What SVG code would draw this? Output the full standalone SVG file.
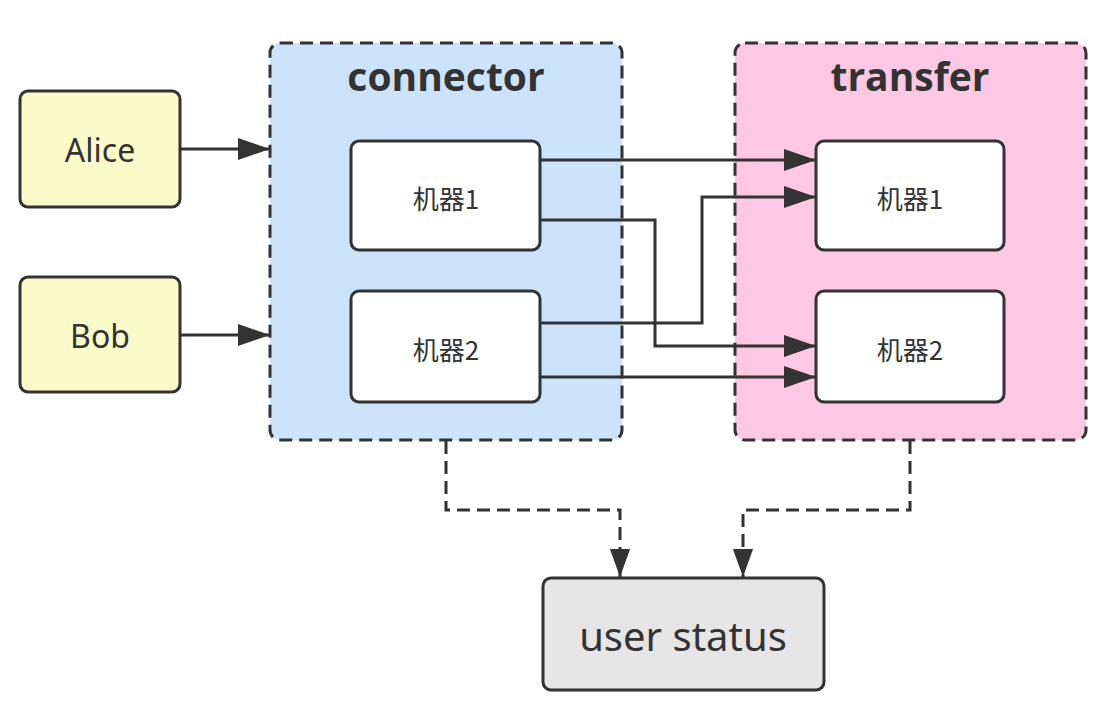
<svg xmlns="http://www.w3.org/2000/svg" width="1100" height="708" viewBox="0 0 1100 708">
<defs>
<marker id="arrBig" viewBox="0 0 12 12" refX="12" refY="6" markerWidth="32" markerHeight="24" orient="auto" markerUnits="userSpaceOnUse" preserveAspectRatio="none">
<path d="M0,0.5 L12,6 L0,11.5 Z" fill="#333"/>
</marker>
<marker id="arrDash" viewBox="0 0 12 12" refX="12" refY="6" markerWidth="28" markerHeight="22" orient="auto" markerUnits="userSpaceOnUse" preserveAspectRatio="none">
<path d="M0,0.5 L12,6 L0,11.5 Z" fill="#333"/>
</marker>
<style>
.box{stroke:#333;stroke-width:3}
.grp{stroke:#333;stroke-width:3;stroke-dasharray:13 7}
.lbl{font-family:"Noto Sans","Open Sans","Noto Sans CJK SC",sans-serif;fill:#333;text-anchor:middle;dominant-baseline:central}
.ttl{font-family:"Open Sans","Noto Sans",sans-serif;font-weight:bold;fill:#333;text-anchor:middle;dominant-baseline:central;font-size:39px}
.cn{font-family:"Noto Sans CJK SC","Noto Sans",sans-serif;fill:#333;text-anchor:middle;dominant-baseline:central;font-size:26px}
.ln{stroke:#333;stroke-width:3;fill:none;marker-end:url(#arrBig)}
.dl{stroke:#333;stroke-width:3;fill:none;stroke-dasharray:13 7;marker-end:url(#arrDash)}
</style>
</defs>
<rect width="1100" height="708" fill="#ffffff"/>

<g id="connector">
<rect x="270" y="43" width="352" height="397" rx="10" fill="#cce4fb" class="grp"/>
<text x="446" y="75" class="ttl">connector</text>
</g>
<g id="transfer">
<rect x="735" y="43" width="351" height="397" rx="10" fill="#fdc8e3" class="grp"/>
<text x="910" y="75" class="ttl">transfer</text>
</g>

<g id="alice">
<rect x="20" y="91" width="160" height="116" rx="8" fill="#fbfbca" class="box"/>
<text x="100" y="149" class="lbl" font-size="32">Alice</text>
</g>
<g id="bob">
<rect x="20" y="277" width="160" height="115" rx="8" fill="#fbfbca" class="box"/>
<text x="100" y="335" class="lbl" font-size="32">Bob</text>
</g>

<g id="c-m1">
<rect x="351" y="141" width="189" height="109" rx="8" fill="#ffffff" class="box"/>
<text x="446" y="197" class="cn">机器1</text>
</g>
<g id="c-m2">
<rect x="351" y="291" width="189" height="111" rx="8" fill="#ffffff" class="box"/>
<text x="446" y="348" class="cn">机器2</text>
</g>
<g id="t-m1">
<rect x="816" y="141" width="188" height="109" rx="8" fill="#ffffff" class="box"/>
<text x="910" y="197" class="cn">机器1</text>
</g>
<g id="t-m2">
<rect x="816" y="291" width="188" height="111" rx="8" fill="#ffffff" class="box"/>
<text x="910" y="348" class="cn">机器2</text>
</g>

<g id="userstatus">
<rect x="543" y="578" width="281" height="112" rx="8" fill="#e6e6e6" class="box"/>
<text x="683" y="635" class="lbl" font-size="40">user status</text>
</g>

<g id="connectors">
<path d="M180,149 L270,149" class="ln"/>
<path d="M180,335 L270,335" class="ln"/>
<path d="M540,160 L816,160" class="ln"/>
<path d="M540,220 L655,220 L655,346 L816,346" class="ln"/>
<path d="M540,323 L702,323 L702,197 L816,197" class="ln"/>
<path d="M540,377 L816,377" class="ln"/>
<path d="M446,441 L446,510 L620,510 L620,577" class="dl"/>
<path d="M910,441 L910,510 L743,510 L743,577" class="dl"/>
</g>
</svg>
